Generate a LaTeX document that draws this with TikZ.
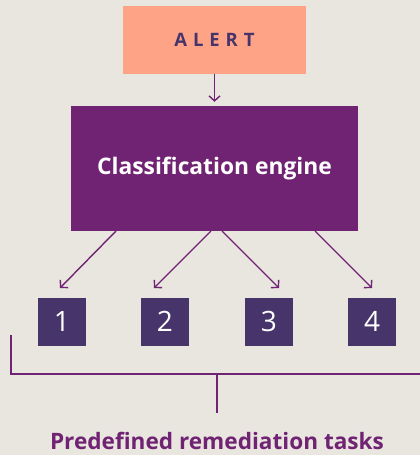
\documentclass[tikz,border=0pt]{standalone}
\usepackage{fontspec}
\setmainfont{Open Sans}
\usetikzlibrary{arrows.meta}
\definecolor{bgc}{HTML}{E9E6E0}
\definecolor{salmon}{HTML}{FFA387}
\definecolor{plum}{HTML}{712373}
\definecolor{ink}{HTML}{46346A}
\tikzset{
  boxstyle/.style={draw=none, inner sep=0pt, align=center},
  numbox/.style={boxstyle, fill=ink, text=white, minimum width=48pt, minimum height=48pt, font=\fontsize{28}{30}\selectfont},
  conn/.style={draw=plum, line width=1.4pt, -{Straight Barb[length=5pt,width=11pt,line width=1.4pt]}},
  brack/.style={draw=plum, line width=1.3pt}
}
\begin{document}
\begin{tikzpicture}[x=1pt,y=-1pt]
\fill[bgc] (0,0) rectangle (420,455);
\useasboundingbox (0,0) rectangle (420,455);
\node[boxstyle, fill=salmon, text=ink, minimum width=183pt, minimum height=68pt,
  font=\fontsize{18.5}{20}\selectfont\bfseries\addfontfeatures{LetterSpace=32}] (alert) at (214.5,40) {ALERT};
\node[boxstyle, fill=plum, text=white, minimum width=287pt, minimum height=125pt,
  font=\fontsize{22.8}{26}\selectfont\bfseries] (engine) at (214.5,168.5) {Classification engine};
\node[numbox] (n1) at (62,321.5) {1};
\node[numbox] (n2) at (165,321.5) {2};
\node[numbox] (n3) at (269,321.5) {3};
\node[numbox] (n4) at (372,321.5) {4};
\draw[conn] (alert.south) -- ([yshift=4pt]engine.north);
\coordinate (s1) at (116,231);
\coordinate (s2) at (211,231);
\coordinate (s3) at (222,231);
\coordinate (s4) at (315,231);
\coordinate (e1) at (60,288);
\coordinate (e2) at (154,288);
\coordinate (e3) at (279,288);
\coordinate (e4) at (372,288);
\draw[conn] (s1) -- (e1);
\draw[conn] (s2) -- (e2);
\draw[conn] (s3) -- (e3);
\draw[conn] (s4) -- (e4);
\coordinate (bl) at (11,335);
\coordinate (bc) at (11,374);
\coordinate (br) at (421,374);
\coordinate (tm) at (217,374);
\coordinate (tb) at (217,413);
\draw[brack] (bl) -- (bc) -- (br);
\draw[brack] (tm) -- (tb);
\node[text=plum, font=\fontsize{22.6}{26}\selectfont\bfseries, anchor=base] (lbl) at (217,449) {Predefined remediation tasks};
\end{tikzpicture}
\end{document}
